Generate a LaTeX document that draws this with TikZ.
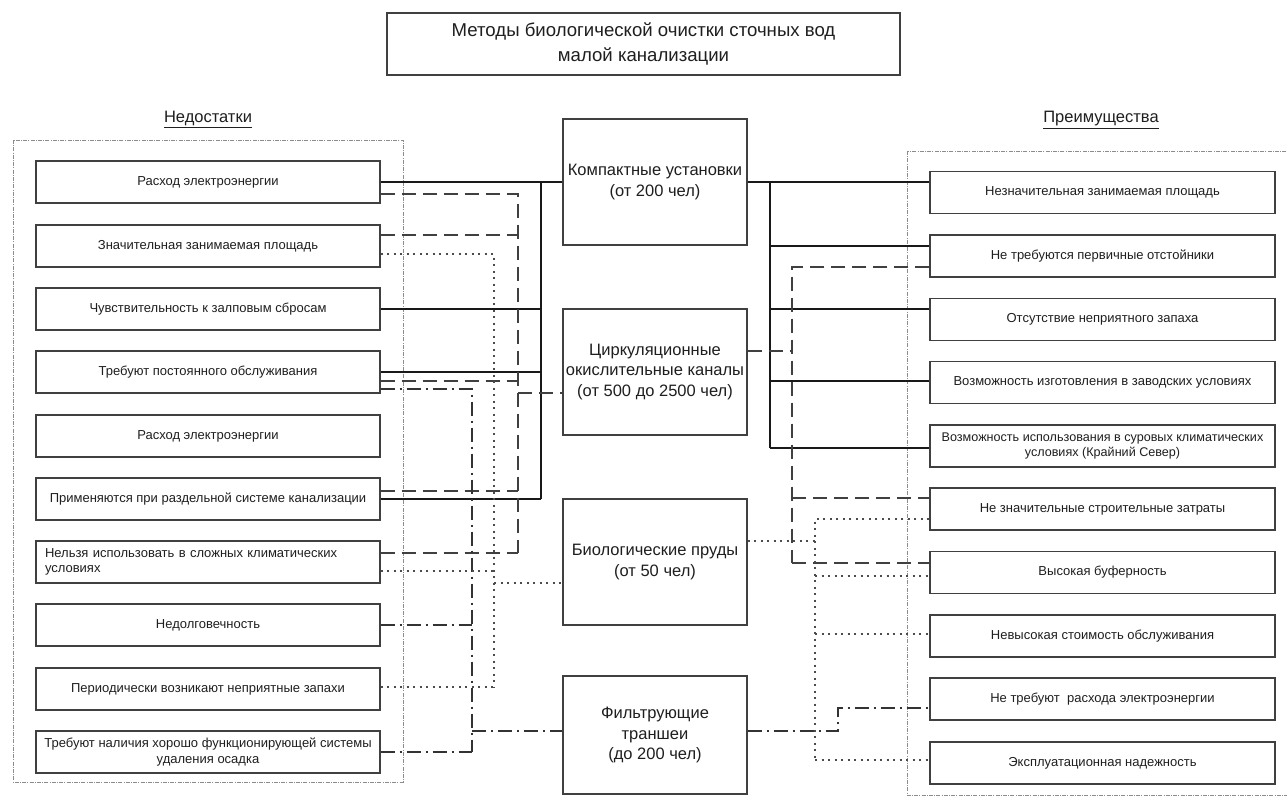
\documentclass[tikz,border=0pt]{standalone}
\usepackage{fontspec}
\setmainfont{Liberation Sans}
\begin{document}
\begin{tikzpicture}[x=1pt,y=-1pt,
  every node/.style={text=black!88},
  box/.style={draw=black!75, line width=1.1pt, fill=white, minimum width=344pt, minimum height=42pt, inner sep=2pt, align=center, font=\fontsize{13}{15.5}\selectfont},
  cbox/.style={draw=black!75, line width=1.1pt, fill=white, minimum width=184pt, inner sep=2pt, align=center, font=\fontsize{16.5}{20.5}\selectfont},
  hdr/.style={font=\fontsize{16.5}{19}\selectfont},
  solidc/.style={line width=1.4pt, black!90},
  dashc/.style={line width=1.7pt, black!75, dash pattern=on 14pt off 7pt},
  dotc/.style={line width=2pt, black!70, dash pattern=on 2pt off 4.5pt},
  ddc/.style={line width=1.7pt, black!80, dash pattern=on 14pt off 5pt on 2pt off 5pt},
  frame/.style={black!45, line width=0.9pt, dash pattern=on 4pt off 1.2pt on 1pt off 1.2pt}]
\useasboundingbox (0,0) rectangle (1287,801);
\fill[white] (0,0) rectangle (1287,801);
% containers
\draw[frame] (13,140) rectangle (403,782);
\draw[frame] (907,151) rectangle (1300,795);
% title and headers
\node[draw=black!75, line width=1.1pt, minimum width=513pt, minimum height=62pt, align=center, font=\fontsize{18.6}{25}\selectfont] (T) at (643.5,44) {Методы биологической очистки сточных вод\\малой канализации};
\node[hdr] (hL) at (208,119) {\underline{Недостатки}};
\node[hdr] (hR) at (1101,120) {\underline{Преимущества}};
% left boxes
\node[box] (L1) at (208,182) {Расход электроэнергии};
\node[box] (L2) at (208,246) {Значительная занимаемая площадь};
\node[box] (L3) at (208,309) {Чувствительность к залповым сбросам};
\node[box] (L4) at (208,372) {Требуют постоянного обслуживания};
\node[box] (L5) at (208,436) {Расход электроэнергии};
\node[box] (L6) at (208,499) {Применяются при раздельной системе канализации};
\node[box, align=left, text width=326pt] (L7) at (208,562) {Нельзя использовать в сложных климатических\\условиях};
\node[box] (L8) at (208,625) {Недолговечность};
\node[box] (L9) at (208,689) {Периодически возникают неприятные запахи};
\node[box] (L10) at (208,752) {Требуют наличия хорошо функционирующей системы\\удаления осадка};
% right boxes
\node[box, minimum width=345pt] (R1) at (1102.5,192.5) {Незначительная занимаемая площадь};
\node[box, minimum width=345pt] (R2) at (1102.5,256) {Не требуются первичные отстойники};
\node[box, minimum width=345pt] (R3) at (1102.5,319.5) {Отсутствие неприятного запаха};
\node[box, minimum width=345pt] (R4) at (1102.5,382.5) {Возможность изготовления в заводских условиях};
\node[box, minimum width=345pt, font=\fontsize{12.6}{15}\selectfont] (R5) at (1102.5,446) {Возможность использования в суровых климатических\\условиях (Крайний Север)};
\node[box, minimum width=345pt] (R6) at (1102.5,509) {Не значительные строительные затраты};
\node[box, minimum width=345pt] (R7) at (1102.5,572.5) {Высокая буферность};
\node[box, minimum width=345pt] (R8) at (1102.5,636) {Невысокая стоимость обслуживания};
\node[box, minimum width=345pt] (R9) at (1102.5,699) {Не требуют \ расхода электроэнергии};
\node[box, minimum width=345pt] (R10) at (1102.5,763) {Эксплуатационная надежность};
% centre boxes
\node[cbox, minimum height=126pt] (K) at (655,182) {Компактные установки\\(от 200 чел)};
\node[cbox, minimum height=126pt] (C) at (655,372) {Циркуляционные\\окислительные каналы\\(от 500 до 2500 чел)};
\node[cbox, minimum height=126pt] (B) at (655,562) {Биологические пруды\\(от 50 чел)};
\node[cbox, minimum height=118pt] (F) at (655,735) {Фильтрующие\\траншеи\\(до 200 чел)};
% bus coordinates
\coordinate (sL) at (541,182);
\coordinate (dL) at (518,553);
\coordinate (tL) at (494,687);
\coordinate (aL) at (472,752);
\coordinate (sR) at (770,448);
\coordinate (dR) at (792,563);
\coordinate (tR) at (815,760);
\coordinate (aR) at (838,708);
% left solid: Компактные
\draw[solidc] (L1.east) -- (L1.east -| K.west);
\draw[solidc] (sL) -- (sL |- L6.east);
\draw[solidc] (L3.east) -- (L3.east -| sL);
\draw[solidc] (L4.east) -- (L4.east -| sL);
\draw[solidc] (L6.east) -- (L6.east -| sL);
% left dashed: Циркуляционные
\draw[dashc] ([yshift=-12pt]L1.east) -| (dL);
\draw[dashc] ([yshift=11pt]L2.east) -- ([yshift=11pt]L2.east -| dL);
\draw[dashc] ([yshift=-9pt]L4.east) -- ([yshift=-9pt]L4.east -| dL);
\draw[dashc] ([yshift=8pt]L6.east) -- ([yshift=8pt]L6.east -| dL);
\draw[dashc] ([yshift=9pt]L7.east) -- ([yshift=9pt]L7.east -| dL);
\draw[dashc] ([yshift=-21pt]C.west -| dL) -- ([yshift=-21pt]C.west);
% left dash-dot: Фильтрующие
\draw[ddc] ([yshift=-17pt]L4.east) -| (aL);
\draw[ddc] (L8.east) -- (L8.east -| aL);
\draw[ddc] (L10.east) -- (L10.east -| aL);
\draw[ddc] ([yshift=4pt]F.west -| aL) -- ([yshift=4pt]F.west);
% left dotted: Биологические
\draw[dotc] ([yshift=-8pt]L2.east) -| (tL);
\draw[dotc] ([yshift=-9pt]L7.east) -- ([yshift=-9pt]L7.east -| tL);
\draw[dotc] ([yshift=2pt]L9.east) -- ([yshift=2pt]L9.east -| tL);
\draw[dotc] ([yshift=-21pt]B.west -| tL) -- ([yshift=-21pt]B.west);
% right solid: Компактные
\draw[solidc] (K.east) -- (K.east -| R1.west);
\draw[solidc] (K.east -| sR) -- (sR);
\draw[solidc] ([yshift=10pt]R2.west -| sR) -- ([yshift=10pt]R2.west);
\draw[solidc] ([yshift=10.5pt]R3.west -| sR) -- ([yshift=10.5pt]R3.west);
\draw[solidc] ([yshift=1.5pt]R4.west -| sR) -- ([yshift=1.5pt]R4.west);
\draw[solidc] (sR) -- (sR -| R5.west);
% right dashed: Циркуляционные
\draw[dashc] ([yshift=21pt]C.east) -- ([yshift=21pt]C.east -| dR);
\draw[dashc] ([yshift=-11pt]R2.west) -| (dR);
\draw[dashc] ([yshift=11pt]R6.west -| dR) -- ([yshift=11pt]R6.west);
\draw[dashc] (dR) -- (dR -| R7.west);
% right dotted: Биологические
\draw[dotc] ([yshift=21pt]B.east) -- ([yshift=21pt]B.east -| tR);
\draw[dotc] ([yshift=-10pt]R6.west) -| (tR);
\draw[dotc] ([yshift=-3.5pt]R7.west -| tR) -- ([yshift=-3.5pt]R7.west);
\draw[dotc] ([yshift=2pt]R8.west -| tR) -- ([yshift=2pt]R8.west);
\draw[dotc] (tR) -- (tR -| R10.west);
% right dash-dot: Фильтрующие
\draw[ddc] ([yshift=4pt]F.east) -| (aR) -- (aR -| R9.west);
\end{tikzpicture}
\end{document}
